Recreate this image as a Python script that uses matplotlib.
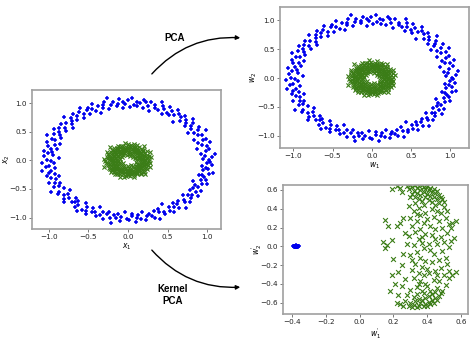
import numpy as np
import matplotlib
matplotlib.use("Agg")
import matplotlib.pyplot as plt
from matplotlib.patches import FancyArrowPatch

# outer ring (class 0): polar angle in degrees and radius
outer_deg = [
    0.4, 1.9, 3.1, 4.8, 6.2, 7.0, 9.5, 11.1, 12.7, 14.2,
    15.6, 16.9, 18.8, 20.3, 21.0, 23.4, 25.2, 26.1, 27.9, 29.3,
    30.8, 32.5, 33.1, 35.0, 36.7, 38.2, 39.6, 41.3, 42.0, 44.4,
    45.9, 47.2, 48.8, 50.1, 51.7, 53.6, 54.2, 56.9, 57.5, 59.1,
    60.6, 62.3, 63.0, 64.8, 66.5, 67.1, 69.4, 70.2, 72.8, 74.0,
    75.3, 77.1, 78.6, 79.2, 81.5, 82.9, 84.0, 85.7, 87.3, 88.8,
    90.2, 91.9, 93.5, 94.1, 96.0, 97.6, 98.3, 100.8, 102.4, 103.7,
    105.1, 106.8, 108.2, 109.0, 111.6, 112.3, 114.7, 115.5, 117.2, 118.9,
    120.4, 121.1, 123.6, 124.9, 126.3, 127.0, 129.5, 130.8, 132.2, 134.1,
    135.7, 137.0, 138.4, 140.6, 141.2, 143.3, 144.9, 146.5, 147.1, 149.6,
    150.3, 152.8, 153.5, 155.1, 156.7, 158.4, 159.0, 161.2, 162.9, 164.3,
    165.8, 167.0, 168.6, 170.9, 171.4, 173.2, 174.7, 176.1, 177.8, 179.5,
    180.9, 182.2, 183.0, 185.4, 186.1, 188.3, 189.7, 191.2, 192.6, 194.8,
    195.3, 197.5, 198.1, 200.0, 201.6, 203.2, 204.9, 206.3, 207.0, 209.4,
    210.7, 212.1, 213.8, 215.0, 216.6, 218.3, 219.9, 221.4, 222.0, 224.5,
    225.9, 227.3, 228.0, 230.6, 231.2, 233.8, 234.5, 236.1, 237.7, 239.2,
    240.6, 242.0, 243.3, 245.1, 246.8, 247.4, 249.9, 250.5, 252.7, 254.0,
    255.4, 257.2, 258.8, 259.5, 261.1, 262.7, 264.3, 265.0, 267.6, 269.1,
    270.5, 272.9, 273.2, 275.0, 276.4, 277.8, 279.3, 281.0, 282.6, 284.1,
    285.7, 287.0, 288.5, 290.2, 291.8, 293.4, 294.0, 296.6, 297.1, 299.3,
    300.8, 302.5, 303.0, 305.3, 306.9, 308.2, 309.6, 311.4, 312.1, 314.7,
    315.2, 317.0, 318.6, 320.3, 321.9, 323.1, 324.7, 326.4, 327.0, 329.5,
    330.1, 332.6, 333.3, 335.8, 336.4, 338.0, 339.7, 341.2, 342.8, 344.5,
    345.0, 346.7, 348.3, 349.9, 351.1, 352.6, 354.2, 355.8, 357.3, 358.9,
]
outer_r = [
    1.02, 0.95, 1.07, 0.98, 1.11, 0.93, 1.00, 1.05, 0.89, 1.03,
    0.97, 1.09, 0.94, 1.01, 1.06, 0.91, 1.04, 0.99, 1.12, 0.96,
    1.03, 0.90, 1.08, 0.97, 1.00, 1.05, 0.93, 1.10, 0.98, 1.02,
    0.95, 1.06, 1.01, 0.88, 1.04, 0.99, 1.09, 0.94, 1.03, 0.97,
    1.07, 0.92, 1.00, 1.05, 0.96, 1.11, 0.98, 1.02, 0.90, 1.06,
    0.99, 1.04, 0.93, 1.08, 1.01, 0.95, 1.03, 0.97, 1.10, 0.94,
    1.05, 0.98, 1.02, 0.91, 1.07, 1.00, 0.96, 1.04, 0.99, 1.12,
    0.93, 1.06, 1.01, 0.97, 1.03, 0.89, 1.08, 0.95, 1.00, 1.05,
    1.02, 0.94, 1.09, 0.98, 1.04, 0.92, 1.01, 1.07, 0.96, 1.03,
    0.99, 1.10, 0.95, 1.02, 0.90, 1.06, 0.98, 1.04, 0.93, 1.08,
    1.01, 0.97, 1.05, 0.94, 1.11, 0.99, 1.03, 0.91, 1.07, 0.96,
    1.04, 0.92, 1.00, 1.08, 0.97, 1.02, 0.95, 1.06, 0.88, 1.03,
    0.98, 1.09, 0.94, 1.01, 1.05, 0.93, 1.10, 0.99, 1.03, 0.96,
    1.06, 0.91, 1.02, 0.97, 1.08, 1.00, 0.95, 1.04, 0.98, 1.12,
    0.94, 1.03, 1.07, 0.90, 1.01, 0.96, 1.05, 0.99, 1.09, 0.93,
    1.02, 0.98, 0.95, 1.06, 1.00, 1.10, 0.92, 1.04, 0.97, 1.03,
    1.08, 0.94, 1.01, 0.99, 0.89, 1.05, 1.02, 0.96, 1.07, 0.98,
    0.93, 1.04, 1.11, 0.97, 1.02, 0.95, 1.06, 1.00, 0.91, 1.03,
    1.05, 0.98, 0.94, 1.09, 1.01, 0.96, 1.03, 0.92, 1.07, 1.00,
    0.97, 1.02, 1.06, 0.95, 1.10, 0.99, 0.93, 1.04, 1.01, 0.88,
    1.03, 0.96, 1.08, 1.00, 0.94, 1.05, 0.98, 1.11, 0.95, 1.02,
    0.99, 1.07, 0.92, 1.04, 0.97, 1.01, 1.09, 0.94, 1.03, 0.96,
    1.06, 1.00, 0.95, 1.02, 0.90, 1.08, 0.98, 1.04, 1.01, 0.93,
    0.97, 1.05, 1.10, 0.96, 1.03, 0.99, 0.94, 1.07, 1.00, 1.04,
]

# inner ring (class 1)
inner_deg = [
    0.9, 2.4, 3.7, 5.5, 6.1, 8.3, 9.8, 11.0, 12.6, 13.9,
    15.2, 17.4, 18.1, 19.9, 21.6, 22.8, 24.3, 25.7, 27.1, 28.5,
    30.3, 31.8, 33.9, 34.5, 36.2, 37.7, 39.0, 40.9, 42.5, 43.6,
    45.4, 46.6, 48.1, 49.7, 51.2, 52.0, 54.6, 55.3, 57.9, 58.7,
    60.1, 61.5, 63.7, 64.2, 66.0, 67.8, 68.5, 70.6, 71.3, 73.9,
    75.8, 76.4, 78.0, 80.3, 81.1, 82.5, 84.6, 85.2, 87.9, 89.4,
    90.7, 92.3, 93.0, 95.2, 96.9, 97.3, 99.6, 100.1, 102.8, 104.5,
    105.6, 107.4, 108.9, 110.2, 111.0, 113.5, 114.1, 116.6, 117.8, 119.3,
    120.9, 122.4, 123.2, 125.5, 126.8, 128.1, 129.9, 131.4, 133.0, 134.6,
    135.1, 136.7, 138.9, 139.6, 141.8, 142.3, 144.0, 145.7, 147.5, 148.2,
    150.8, 151.4, 153.0, 154.6, 156.2, 157.9, 158.5, 160.3, 162.1, 163.8,
    165.3, 166.9, 168.0, 169.7, 171.5, 172.2, 174.0, 175.6, 177.3, 178.8,
    180.2, 181.7, 183.8, 184.5, 186.9, 187.3, 189.1, 190.6, 192.3, 193.9,
    195.8, 196.5, 198.7, 199.2, 201.0, 202.8, 204.4, 205.1, 207.7, 208.6,
    210.1, 211.9, 213.3, 214.8, 216.0, 217.6, 219.2, 220.7, 222.5, 223.4,
    225.2, 226.8, 228.6, 229.1, 231.7, 232.4, 234.0, 235.9, 237.3, 238.8,
    240.1, 241.7, 243.9, 244.6, 246.3, 248.0, 249.2, 251.5, 252.1, 253.8,
    255.9, 256.6, 258.2, 260.0, 261.4, 262.9, 264.8, 265.5, 267.1, 268.7,
    270.0, 271.6, 273.4, 274.9, 276.1, 277.5, 279.8, 280.4, 282.0, 283.7,
    285.3, 286.1, 288.0, 289.7, 291.2, 292.6, 294.5, 295.0, 297.9, 298.4,
    300.2, 301.9, 303.5, 304.1, 306.6, 307.3, 309.0, 310.8, 312.4, 313.7,
    315.9, 316.3, 318.1, 319.6, 321.4, 322.0, 324.2, 325.8, 327.5, 328.1,
    330.6, 331.3, 333.0, 334.7, 336.2, 337.9, 339.1, 340.8, 342.4, 343.0,
    345.7, 346.2, 348.8, 349.4, 351.7, 352.3, 354.0, 355.6, 357.1, 359.5,
]
inner_r = [
    0.21, 0.15, 0.27, 0.18, 0.24, 0.12, 0.30, 0.20, 0.16, 0.25,
    0.19, 0.28, 0.14, 0.22, 0.10, 0.26, 0.17, 0.23, 0.31, 0.20,
    0.13, 0.24, 0.19, 0.29, 0.16, 0.21, 0.08, 0.25, 0.18, 0.27,
    0.22, 0.11, 0.26, 0.17, 0.20, 0.32, 0.15, 0.23, 0.19, 0.28,
    0.16, 0.25, 0.21, 0.13, 0.29, 0.18, 0.24, 0.09, 0.22, 0.26,
    0.20, 0.30, 0.14, 0.23, 0.17, 0.27, 0.12, 0.21, 0.25, 0.19,
    0.28, 0.15, 0.22, 0.18, 0.31, 0.24, 0.10, 0.20, 0.26, 0.16,
    0.23, 0.19, 0.27, 0.13, 0.21, 0.25, 0.17, 0.29, 0.14, 0.22,
    0.18, 0.26, 0.11, 0.24, 0.20, 0.16, 0.28, 0.22, 0.19, 0.33,
    0.25, 0.14, 0.21, 0.27, 0.17, 0.23, 0.09, 0.26, 0.20, 0.15,
    0.30, 0.22, 0.18, 0.24, 0.12, 0.28, 0.19, 0.25, 0.16, 0.21,
    0.17, 0.27, 0.23, 0.10, 0.26, 0.20, 0.31, 0.15, 0.22, 0.18,
    0.24, 0.13, 0.29, 0.19, 0.21, 0.16, 0.25, 0.28, 0.11, 0.23,
    0.20, 0.26, 0.15, 0.22, 0.32, 0.18, 0.24, 0.14, 0.27, 0.19,
    0.12, 0.23, 0.28, 0.17, 0.25, 0.21, 0.08, 0.26, 0.20, 0.30,
    0.22, 0.16, 0.24, 0.27, 0.13, 0.19, 0.29, 0.21, 0.17, 0.25,
    0.28, 0.20, 0.11, 0.23, 0.18, 0.26, 0.22, 0.15, 0.31, 0.19,
    0.16, 0.25, 0.21, 0.29, 0.14, 0.24, 0.19, 0.27, 0.10, 0.22,
    0.26, 0.18, 0.23, 0.13, 0.28, 0.20, 0.25, 0.17, 0.22, 0.30,
    0.19, 0.27, 0.15, 0.24, 0.21, 0.09, 0.26, 0.23, 0.18, 0.25,
    0.23, 0.12, 0.29, 0.20, 0.17, 0.27, 0.22, 0.32, 0.16, 0.21,
    0.28, 0.19, 0.24, 0.14, 0.26, 0.21, 0.18, 0.25, 0.29, 0.13,
    0.20, 0.26, 0.17, 0.23, 0.30, 0.15, 0.22, 0.27, 0.19, 0.24,
    0.25, 0.11, 0.21, 0.28, 0.18, 0.24, 0.16, 0.20, 0.26, 0.22,
]

# kernel PCA projection: class 1 (crescent) and class 0 (collapsed blob)
kpca1_x = [
    0.28, 0.30, 0.31, 0.33, 0.34, 0.35, 0.36, 0.37, 0.38, 0.39,
    0.40, 0.41, 0.42, 0.43, 0.44, 0.45, 0.46, 0.47, 0.48, 0.49,
    0.29, 0.32, 0.34, 0.36, 0.38, 0.40, 0.42, 0.44, 0.46, 0.50,
    0.31, 0.33, 0.35, 0.39, 0.41, 0.43, 0.47, 0.30, 0.37, 0.45,
    0.29, 0.31, 0.32, 0.34, 0.35, 0.36, 0.38, 0.39, 0.40, 0.41,
    0.42, 0.43, 0.44, 0.45, 0.46, 0.47, 0.48, 0.30, 0.33, 0.35,
    0.37, 0.39, 0.41, 0.43, 0.45, 0.49, 0.32, 0.34, 0.38, 0.42,
    0.26, 0.24, 0.27, 0.22, 0.28,
    0.50, 0.52, 0.48, 0.51, 0.47, 0.53, 0.49, 0.45, 0.52, 0.48,
    0.50, 0.46, 0.53, 0.49, 0.44, 0.51, 0.47, 0.52, 0.48, 0.45,
    0.50, 0.53, 0.47, 0.51, 0.46, 0.43, 0.44, 0.42, 0.43, 0.41,
    0.42, 0.43, 0.41, 0.44, 0.40, 0.46, 0.45, 0.46, 0.55, 0.57,
    0.56, 0.54, 0.57, 0.55, 0.54, 0.53,
    0.38, 0.35, 0.32, 0.39, 0.36, 0.30, 0.34, 0.38, 0.31, 0.36,
    0.33, 0.39, 0.29, 0.35, 0.37, 0.32, 0.38, 0.34, 0.30, 0.36,
    0.39, 0.33, 0.37, 0.31, 0.35, 0.38, 0.32, 0.36, 0.39, 0.34,
    0.30, 0.37, 0.33, 0.29, 0.40, 0.34, 0.37, 0.31, 0.40, 0.35,
    0.15, 0.17, 0.14, 0.16, 0.15, 0.19, 0.22, 0.24, 0.20, 0.26,
    0.19, 0.23, 0.18, 0.21, 0.25, 0.24, 0.22, 0.19, 0.25, 0.27,
    0.26, 0.25, 0.23, 0.27, 0.28,
]
kpca1_y = [
    0.64, 0.65, 0.63, 0.65, 0.62, 0.64, 0.60, 0.65, 0.63, 0.61,
    0.64, 0.60, 0.62, 0.58, 0.61, 0.57, 0.59, 0.55, 0.53, 0.50,
    0.61, 0.59, 0.57, 0.55, 0.58, 0.56, 0.54, 0.52, 0.50, 0.47,
    0.56, 0.53, 0.50, 0.52, 0.49, 0.47, 0.46, 0.52, 0.48, 0.44,
    -0.64, -0.65, -0.62, -0.65, -0.63, -0.60, -0.64, -0.61, -0.63, -0.59,
    -0.61, -0.57, -0.60, -0.55, -0.57, -0.53, -0.50, -0.60, -0.58, -0.56,
    -0.57, -0.55, -0.53, -0.51, -0.49, -0.47, -0.54, -0.51, -0.50, -0.47,
    -0.63, -0.61, -0.58, -0.60, -0.52,
    0.42, 0.38, 0.35, 0.30, 0.27, 0.24, 0.20, 0.18, 0.14, 0.10,
    0.05, 0.02, -0.01, -0.05, -0.08, -0.12, -0.15, -0.19, -0.23, -0.26,
    -0.30, -0.34, -0.37, -0.41, -0.44, 0.40, 0.31, 0.22, 0.12, 0.03,
    -0.04, -0.17, -0.28, -0.36, -0.42, 0.38, 0.08, -0.31, 0.25, 0.27,
    0.09, 0.06, -0.27, -0.30, 0.20, -0.26,
    0.44, 0.41, 0.38, 0.36, 0.33, 0.30, 0.27, 0.25, 0.22, 0.19,
    0.15, 0.13, 0.11, 0.08, 0.04, 0.01, -0.02, -0.06, -0.09, -0.12,
    -0.16, -0.19, -0.22, -0.25, -0.28, -0.31, -0.34, -0.37, -0.40, -0.43,
    -0.46, -0.47, 0.46, 0.43, 0.29, 0.34, 0.10, -0.14, -0.24, -0.40,
    0.28, 0.22, 0.05, 0.01, -0.02, 0.07, 0.22, 0.25, -0.13, 0.30,
    -0.30, -0.27, -0.48, -0.40, -0.42, 0.62, 0.64, 0.61, 0.58, 0.14,
    -0.08, -0.20, -0.52, -0.35, 0.03,
]
kpca0_x = [
    -0.395, -0.390, -0.388, -0.385, -0.383, -0.380, -0.378, -0.376, -0.374, -0.372,
    -0.370, -0.368, -0.366, -0.364, -0.362, -0.386, -0.381, -0.377, -0.373, -0.369,
    -0.391, -0.375, -0.379, -0.371, -0.384,
]
kpca0_y = [
    0.002, -0.004, 0.006, -0.008, 0.003, -0.002, 0.009, -0.006, 0.004, -0.010,
    0.001, 0.007, -0.003, 0.005, -0.001, 0.008, -0.009, 0.002, -0.005, 0.004,
    -0.001, 0.010, -0.007, 0.000, 0.003,
]

BLUE = "#0000ee"
GREEN = "#3b7d17"

t0 = np.deg2rad(outer_deg)
t1 = np.deg2rad(inner_deg)
x0, y0 = np.array(outer_r) * np.cos(t0), np.array(outer_r) * np.sin(t0)
x1, y1 = np.array(inner_r) * np.cos(t1), np.array(inner_r) * np.sin(t1)

plt.rcParams["font.size"] = 5.5
fig = plt.figure(figsize=(4.74, 3.41), dpi=100, facecolor="white")
W, H = 474.0, 341.0


def make_ax(left, top, right, bottom):
    ax = fig.add_axes([left / W, 1 - bottom / H, (right - left) / W, (bottom - top) / H])
    for s in ax.spines.values():
        s.set_color("#a0a0a0")
        s.set_linewidth(1.2)
    ax.tick_params(labelsize=5.2, length=2, width=0.7, color="#777777", pad=1.5,
                   labelcolor="#222222")
    return ax


def draw_rings(ax):
    ax.scatter(x0, y0, marker="+", s=10, color=BLUE, linewidths=1.1)
    ax.scatter(x1, y1, marker="x", s=9, color=GREEN, linewidths=0.8)
    ax.set_xticks([-1.0, -0.5, 0.0, 0.5, 1.0])
    ax.set_yticks([-1.0, -0.5, 0.0, 0.5, 1.0])


# original data
ax = make_ax(32, 90, 221, 229)
draw_rings(ax)
ax.set_xlim(-1.215, 1.177)
ax.set_ylim(-1.2, 1.23)
ax.set_xlabel("$x_1$", labelpad=1)
ax.set_ylabel("$x_2$")
ax.yaxis.set_label_coords(-0.108, 0.5)

# linear PCA
ax = make_ax(280, 7, 469, 148)
draw_rings(ax)
ax.set_xlim(-1.17, 1.24)
ax.set_ylim(-1.21, 1.23)
ax.set_xlabel("$w_1$", labelpad=1)
ax.set_ylabel("$w_2$")
ax.yaxis.set_label_coords(-0.112, 0.5)

# kernel PCA
ax = make_ax(283, 185, 468, 314)
ax.scatter(kpca0_x, kpca0_y, marker="+", s=10, color=BLUE, linewidths=1.1)
ax.scatter(kpca1_x, kpca1_y, marker="x", s=12, color=GREEN, linewidths=0.8)
ax.set_xlim(-0.455, 0.643)
ax.set_ylim(-0.72, 0.653)
ax.set_xticks([-0.4, -0.2, 0.0, 0.2, 0.4, 0.6])
ax.set_yticks([-0.6, -0.4, -0.2, 0.0, 0.2, 0.4, 0.6])
ax.set_xlabel("$w_1^{'}$", labelpad=1)
ax.set_ylabel("$w_2^{'}$")
ax.yaxis.set_label_coords(-0.1, 0.5)


def fig_pt(px, py):
    return (px / W, 1 - py / H)


for start, end, rad in [((150, 76), (243, 38), -0.25), ((150, 248), (243, 287), 0.25)]:
    arr = FancyArrowPatch(fig_pt(*start), fig_pt(*end), transform=fig.transFigure,
                          connectionstyle=f"arc3,rad={rad}", arrowstyle="-|>",
                          mutation_scale=6, lw=1.0, color="black")
    fig.patches.append(arr)

fig.text(*fig_pt(175, 38), "PCA", ha="center", va="center", fontsize=7,
         fontweight="bold", family="Liberation Sans")
fig.text(*fig_pt(173, 295), "Kernel\nPCA", ha="center", va="center", fontsize=7,
         fontweight="bold", family="Liberation Sans", linespacing=1.2)

fig.savefig("out.png", dpi=100, facecolor="white")
